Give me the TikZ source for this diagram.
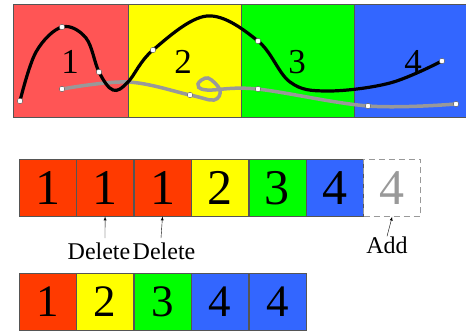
\documentclass[tikz,border=0pt]{standalone}
\usepackage{fontspec}
\setmainfont{Liberation Serif}
\definecolor{regred}{HTML}{FF5555}
\definecolor{cellred}{HTML}{FF3A00}
\definecolor{cellyellow}{HTML}{FFFF00}
\definecolor{cellgreen}{HTML}{00FF00}
\definecolor{cellblue}{HTML}{3366FF}
\definecolor{edge}{HTML}{555555}
\definecolor{track}{HTML}{999999}
\begin{document}
\begin{tikzpicture}
		[
		x=1pt, y=-1pt, >=latex,
		%Zellen
		cell/.style={draw=edge, thin, minimum width=57pt, minimum height=57pt, inner sep=0pt, anchor=north west, font=\fontsize{50}{50}\selectfont},
		smallcell/.style={cell, font=\fontsize{45}{45}\selectfont},
		knot/.style={circle, draw=edge, fill=white, inner sep=0pt, minimum size=5.5pt},
		tag/.style={font=\fontsize{24}{24}\selectfont, inner sep=0pt}
		]
		
		%Rahmen
		\useasboundingbox (0,0) rectangle (466,335);
		
		%Bereiche oben
		\fill[regred] (13,4) rectangle (128,117);
		\fill[cellyellow] (128,4) rectangle (241,117);
		\fill[cellgreen] (241,4) rectangle (354,117);
		\fill[cellblue] (354,4) rectangle (466,117);
		\draw[edge] (128,4) -- (128,117) (241,4) -- (241,117) (354,4) -- (354,117);
		\draw[edge] (466,4) -- (13,4) -- (13,117) -- (466,117);
		
		%Nummern der Bereiche
		\foreach \i/\x in {1/70,2/183,3/297,4/413}
		\node[font=\fontsize{35}{35}\selectfont] (r\i) at (\x,62) {\i};
		
		%graue Kurve
		\draw[track, line width=3.5pt, line cap=round] plot[smooth, tension=0.6] coordinates
		{(62,89) (128,82) (190,95) (214,100) (220,90) (208,78) (198,84) (207,90) (257,89) (368,106) (456,104)};
		
		%schwarze Kurve
		\draw[black, line width=3.2pt, line cap=round] plot[smooth, tension=0.6] coordinates
		{(20,101) (36,52) (62,27) (86,38) (99,72) (113,90) (128,82) (153,50) (207,16) (258,41) (290,82) (327,91) (390,83) (442,61)};
		
		%Stuetzpunkte
		\foreach \p in {(20,101),(62,27),(99,72),(153,50),(258,41),(442,61),(62,89),(190,95),(258,89),(368,106),(456,104)}
		\node[knot] at \p {};
		
		%mittlere Reihe
		\node[cell, fill=cellred] (m1) at (19,159) {1};
		\node[cell, fill=cellred] (m2) at (m1.north east) {1};
		\node[cell, fill=cellred] (m3) at (m2.north east) {1};
		\node[cell, fill=cellyellow] (m4) at (m3.north east) {2};
		\node[cell, fill=cellgreen] (m5) at (m4.north east) {3};
		\node[cell, fill=cellblue] (m6) at (m5.north east) {4};
		\node[cell, draw=track, semithick, dash pattern=on 6pt off 4pt, text=track] (m7) at (m6.north east) {4};
		
		%Beschriftung
		\node[tag] (del1) at (99,251) {Delete};
		\node[tag] (del2) at (164,251) {Delete};
		\node[tag] (add) at (387,245) {Add};
		\coordinate (d1) at (105,238);
		\coordinate (d2) at (161,238);
		\draw[->, thin] (d1) -- (m2.south);
		\draw[->, thin] (d2) -- (m3.south);
		\draw[->, thin] (add.north) -- (m7.south);
		
		%untere Reihe
		\node[smallcell, fill=cellred] (b1) at (19,273) {1};
		\node[smallcell, fill=cellyellow] (b2) at (b1.north east) {2};
		\node[smallcell, fill=cellgreen] (b3) at (b2.north east) {3};
		\node[smallcell, fill=cellblue] (b4) at (b3.north east) {4};
		\node[smallcell, fill=cellblue] (b5) at (b4.north east) {4};
	\end{tikzpicture}
\end{document}
